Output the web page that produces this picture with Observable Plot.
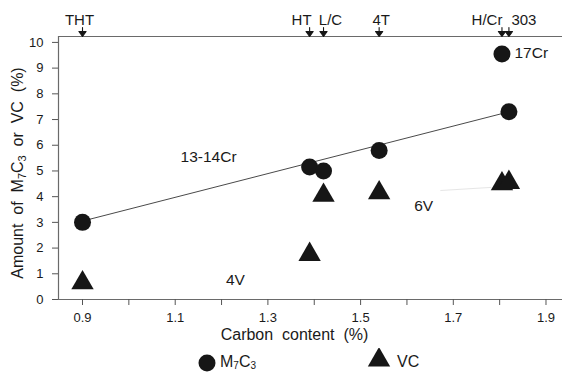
<!DOCTYPE html>
<html>
<head>
<meta charset="utf-8">
<script src="https://cdn.jsdelivr.net/npm/d3@7"></script>
<script src="https://cdn.jsdelivr.net/npm/@observablehq/plot@0.6"></script>
<style>
  body { margin: 0; background: #fff; font-family: "Liberation Sans", Arial, sans-serif; }
  #legend { position: relative; width: 562px; height: 30px; font-size: 16px; color: #1a1a1a; }
  #legend .lbl { position: absolute; white-space: nowrap; }
  #legend sub { font-size: 10px; vertical-align: -2px; line-height: 0; }
</style>
</head>
<body>
<div id="chart"></div>
<div id="legend"></div>
<script>
// ---- data ----
const steels = ["THT", "HT", "L/C", "4T", "H/Cr", "303"];
const carbon = [0.9, 1.39, 1.42, 1.54, 1.805, 1.82];
const m7c3   = [3.0, 5.15, 5.0, 5.8, 9.55, 7.3];
const vc     = [0.65, 1.75, 4.05, 4.15, 4.5, 4.55];

const fitCarbon = [0.9, 1.82];
const fitAmount = [3.05, 7.3];

const leaderCarbon = [1.673, 1.781];
const leaderAmount = [4.24, 4.36];

const noteText   = ["13-14Cr", "6V", "4V"];
const noteCarbon = [1.172, 1.636, 1.23];
const noteAmount = [5.53, 3.62, 0.74];

const crNote = ["17Cr"];
const crNoteCarbon = [1.832];
const crNoteAmount = [9.6];

const xTicks = [0.9, 1.0, 1.1, 1.2, 1.3, 1.4, 1.5, 1.6, 1.7, 1.8, 1.9];
const xTickLabels = ["0.9", "1.1", "1.3", "1.5", "1.7", "1.9"];
const yTicks = [0, 1, 2, 3, 4, 5, 6, 7, 8, 9, 10];

const xTitle = "Carbon\u00a0\u00a0content\u00a0\u00a0(%)";
const yTitleParts = [["Amount\u00a0\u00a0of\u00a0\u00a0M", false], ["7", true], ["C", false], ["3", true], ["\u00a0\u00a0or\u00a0\u00a0VC\u00a0\u00a0(%)", false]];
const seriesNames = [[["M", false], ["7", true], ["C", false], ["3", true]], [["VC", false]]];

const xDomain = [0.8482, 1.9356];
const yDomain = [0, 10.23];

// ---- build tables ----
const points = steels.map((s, i) => ({steel: s, carbon: carbon[i], m7c3: m7c3[i], vc: vc[i]}));
const fit = fitCarbon.map((c, i) => ({carbon: c, amount: fitAmount[i]}));
const leader = leaderCarbon.map((c, i) => ({carbon: c, amount: leaderAmount[i]}));
const notes = noteText.map((t, i) => ({text: t, carbon: noteCarbon[i], amount: noteAmount[i]}));
const crNotes = crNote.map((t, i) => ({text: t, carbon: crNoteCarbon[i], amount: crNoteAmount[i]}));

// label nudges (pixels) for the top steel names
const topDx = {"THT": -3, "HT": -8, "L/C": 7, "4T": 2, "H/Cr": -15, "303": 15};

const ink = "#161616";
const yTitleText = yTitleParts.map(p => p[0]).join("");

// small down arrow: stem + filled head
const arrowShape = {
  draw(context, l) {
    context.moveTo(0, 0);
    context.lineTo(0, -l + 3);
    context.moveTo(-3.6, -l + 5);
    context.lineTo(0, -l);
    context.lineTo(3.6, -l + 5);
    context.closePath();
  }
};

const chart = Plot.plot({
  width: 562,
  height: 348,
  marginTop: 36,
  marginBottom: 49,
  marginLeft: 58,
  marginRight: 0,
  style: {fontFamily: '"Liberation Sans", Arial, sans-serif', color: "#1a1a1a", background: "#fff", overflow: "visible"},
  x: {domain: xDomain, label: null},
  y: {domain: yDomain, label: null},
  marks: [
    Plot.ruleY([yDomain[0], yDomain[1]], {stroke: "#6a6a6a", strokeWidth: 1.2}),
    Plot.ruleX([xDomain[0]], {stroke: "#6a6a6a", strokeWidth: 1.2}),
    Plot.axisX({
      ticks: xTicks,
      tickFormat: d => { const s = d.toFixed(1); return xTickLabels.includes(s) ? s : ""; },
      tickSize: 6, tickPadding: 7, fontSize: 13, label: null, stroke: "#555"
    }),
    Plot.axisY({ticks: yTicks, tickFormat: d => String(d), tickSize: 6, tickPadding: 9, fontSize: 13, label: null, stroke: "#555"}),
    Plot.line(leader, {x: "carbon", y: "amount", stroke: "#e6e6e6", strokeWidth: 1}),
    Plot.line(fit, {x: "carbon", y: "amount", stroke: "#4a4a4a", strokeWidth: 1}),
    Plot.dot(points, {x: "carbon", y: "vc", symbol: "triangle", r: 8.3, fill: ink, stroke: "none"}),
    Plot.dot(points, {x: "carbon", y: "m7c3", symbol: "circle", r: 8.5, fill: ink, stroke: "none"}),
    Plot.vector(points, {x: "carbon", frameAnchor: "top", length: 9, rotate: 180, anchor: "end", shape: arrowShape, stroke: ink, fill: ink, strokeWidth: 1.1}),
    ...points.map(d => Plot.text([d], {x: "carbon", frameAnchor: "top", dy: -22, dx: topDx[d.steel], text: "steel", fontSize: 15, fill: "#1a1a1a"})),
    Plot.text(notes, {x: "carbon", y: "amount", text: "text", fontSize: 15.5, fill: "#1a1a1a"}),
    Plot.text(crNotes, {x: "carbon", y: "amount", text: "text", fontSize: 15.5, textAnchor: "start", fill: "#1a1a1a"}),
    Plot.text([xTitle], {text: d => d, frameAnchor: "bottom", textAnchor: "middle", dy: 40, dx: -16, fontSize: 16, fill: "#1a1a1a"}),
    Plot.text([yTitleText], {text: d => d, frameAnchor: "left", textAnchor: "middle", rotate: -90, dx: -41, dy: 5, fontSize: 16, fill: "#1a1a1a"})
  ]
});

// subscripts in the y title
d3.select(chart).selectAll("text").filter(function () { return this.textContent === yTitleText; }).each(function () {
  const t = d3.select(this);
  t.text(null);
  let shifted = false;
  yTitleParts.forEach(([s, sub]) => {
    const ts = t.append("tspan").text(s);
    if (sub) {
      ts.attr("font-size", 11);
      if (!shifted) { ts.attr("dy", 3); shifted = true; }
    } else if (shifted) { ts.attr("dy", -3); shifted = false; }
  });
});

document.getElementById("chart").appendChild(chart);

// ---- legend (HTML, below the SVG) ----
const legend = d3.select("#legend");
const legendSymbols = ["circle", "triangle"];
const legendPos = [{sx: 207, sy: 15, tx: 220}, {sx: 379, sy: 12, tx: 397}];
seriesNames.forEach((parts, i) => {
  const p = legendPos[i];
  const s = legend.append("svg").attr("width", 24).attr("height", 24)
    .style("position", "absolute").style("left", (p.sx - 12) + "px").style("top", (p.sy - 12) + "px");
  const sym = legendSymbols[i] === "circle" ? d3.symbolCircle : d3.symbolTriangle;
  const r = i === 0 ? 8.5 : 8.3;
  s.append("path").attr("d", d3.symbol(sym, Math.PI * r * r)()).attr("transform", "translate(12,12)").attr("fill", ink);
  const lbl = legend.append("div").attr("class", "lbl").style("left", p.tx + "px").style("top", "5px");
  lbl.html(parts.map(([t, sub]) => sub ? `<sub>${t}</sub>` : t).join(""));
});
</script>
</body>
</html>
